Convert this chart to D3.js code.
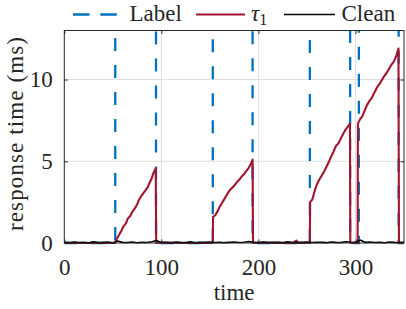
<!DOCTYPE html>
<html>
<head>
<meta charset="utf-8">
<script src="https://cdn.jsdelivr.net/npm/d3@7"></script>
<style>
  html, body { margin: 0; padding: 0; background: #fff; }
  svg text { font-family: "Liberation Serif", "Times New Roman", serif !important; }
</style>
</head>
<body>
<svg width="406" height="309"></svg>
<script>
// chart values
const xTicks = [0, 100, 200, 300]
const yTicks = [0, 5, 10]
const xDomain = [0, 350]
const yDomain = [0, 13]

// Label: step signal, "high" sits far above the visible range
const labelTime = [0, 52.5, 52.5, 94.5, 94.5, 153, 153, 194, 194, 253, 253, 294.5, 294.5, 303.5, 303.5, 344.5, 344.5, 350]
const labelValue = [0, 0, 40, 40, 0, 0, 40, 40, 0, 0, 40, 40, 0, 0, 40, 40, 0, 0]

// tau_1 response time
const tau1Time = [
  0, 52, 54, 56.5, 58.5, 61, 63.5, 65.5, 68, 70, 72.5, 75, 77, 79, 81.5, 84, 86, 88, 90, 92, 94.2, 94.7,
  120, 153, 153.3, 155.5, 158, 160, 162.5, 165, 167.5, 170, 172.5, 175, 177.5, 180, 182.5, 185, 187.5, 190, 192, 194, 194.4,
  236, 239, 241, 253, 253.3, 255.5, 258, 260, 262.5, 265, 267.5, 270, 272.5, 275, 277.5, 280, 282.5, 285, 287.5, 290, 292.5, 294.3, 294.7,
  302.2, 302.5, 304.5, 307, 309.5, 312, 314.5, 317, 319.5, 322, 324.5, 327, 329.5, 332, 334.5, 337, 339.5, 342, 344.3, 344.8, 350
]
const tau1Value = [
  0, 0, 0.25, 0.5, 0.72, 1.02, 1.2, 1.5, 1.65, 1.9, 2.1, 2.35, 2.65, 2.85, 3.05, 3.25, 3.42, 3.7, 3.95, 4.3, 4.56, 0.02,
  0, 0, 1.6, 1.7, 1.95, 2.2, 2.45, 2.7, 2.95, 3.2, 3.35, 3.5, 3.7, 3.85, 4.05, 4.2, 4.4, 4.6, 4.8, 5.1, 0.02,
  0, 0.15, 0, 0, 2.5, 2.65, 3.2, 3.55, 3.85, 4.1, 4.35, 4.65, 4.95, 5.3, 5.6, 5.95, 6.1, 6.4, 6.7, 6.95, 7.15, 7.3, 0.02,
  0, 7.3, 7.55, 7.75, 8.1, 8.45, 8.7, 8.9, 9.2, 9.5, 9.7, 9.95, 10.2, 10.4, 10.65, 10.9, 11.1, 11.45, 11.9, 0.02, 0
]

// Clean: noisy baseline, one sample every 5 time units
const cleanStep = 5
const cleanValue = [
  0.04, 0.02, 0.06, 0.03, 0.05, 0.02, 0.07, 0.03, 0.04, 0.06, 0.02, 0.12, 0.04, 0.03, 0.06, 0.02, 0.05, 0.03, 0.08, 0.15,
  0.03, 0.05, 0.02, 0.06, 0.04, 0.03, 0.07, 0.02, 0.05, 0.04, 0.06, 0.03, 0.05, 0.02, 0.04, 0.06, 0.03, 0.05, 0.09, 0.04,
  0.02, 0.06, 0.03, 0.05, 0.04, 0.02, 0.07, 0.03, 0.05, 0.04, 0.06, 0.03, 0.05, 0.04, 0.02, 0.06, 0.04, 0.03, 0.08, 0.05,
  0.03, 0.18, 0.04, 0.06, 0.03, 0.05, 0.02, 0.06, 0.04, 0.03, 0.05
]

const blue = "#0072bd"
const red = "#a2142f"
const ink = "#262626"

const svg = d3.select("svg")
const margin = { top: 30.5, right: 2, bottom: 66, left: 64.3 }
const width = +svg.attr("width") - margin.left - margin.right
const height = +svg.attr("height") - margin.top - margin.bottom

const x = d3.scaleLinear().domain(xDomain).range([0, width])
const y = d3.scaleLinear().domain(yDomain).range([height, 0])

svg.append("defs").append("clipPath").attr("id", "plotClip")
  .append("rect").attr("x", 0).attr("y", 0).attr("width", width).attr("height", height + 4)

const g = svg.append("g").attr("transform", `translate(${margin.left},${margin.top})`)

// grid
g.append("g").selectAll("line").data(xTicks.filter((d) => d > 0)).join("line")
  .attr("x1", (d) => x(d)).attr("x2", (d) => x(d)).attr("y1", 0).attr("y2", height)
  .attr("stroke", "#dfdfdf").attr("stroke-width", 1)
g.append("g").selectAll("line").data(yTicks.filter((d) => d > 0)).join("line")
  .attr("y1", (d) => y(d)).attr("y2", (d) => y(d)).attr("x1", 0).attr("x2", width)
  .attr("stroke", "#dfdfdf").attr("stroke-width", 1)

// axes with inward ticks on all four sides
const tickLen = 3.5
const styleAxis = (sel) => {
  sel.attr("font-family", null)
  sel.select(".domain").remove()
  sel.selectAll(".tick line").attr("stroke", ink)
  sel.selectAll(".tick text").attr("fill", ink).attr("font-size", 23)
}
g.append("g").attr("transform", `translate(0,${height})`)
  .call(d3.axisBottom(x).tickValues(xTicks).tickSizeInner(-tickLen).tickSizeOuter(0).tickPadding(14))
  .call(styleAxis)
  .selectAll(".tick text").attr("dy", "0.71em").attr("y", 15.5)
g.append("g")
  .call(d3.axisTop(x).tickValues(xTicks).tickSizeInner(-tickLen).tickSizeOuter(0).tickFormat(""))
  .call(styleAxis)
g.append("g")
  .call(d3.axisLeft(y).tickValues(yTicks).tickSizeInner(-tickLen).tickSizeOuter(0).tickPadding(11.5))
  .call(styleAxis)
g.append("g").attr("transform", `translate(${width},0)`)
  .call(d3.axisRight(y).tickValues(yTicks).tickSizeInner(-tickLen).tickSizeOuter(0).tickFormat(""))
  .call(styleAxis)

// data
const lineGen = d3.line().x((d) => x(d[0])).y((d) => y(d[1]))
const labelData = labelTime.map((t, i) => [t, labelValue[i]])
const tau1Data = tau1Time.map((t, i) => [t, tau1Value[i]])
const cleanData = cleanValue.map((v, i) => [i * cleanStep, v])

const plot = g.append("g").attr("clip-path", "url(#plotClip)")
plot.append("path").datum(labelData)
  .attr("fill", "none").attr("stroke", blue).attr("stroke-width", 2.3)
  .attr("stroke-dasharray", "13,14").attr("d", lineGen)
plot.append("path").datum(tau1Data)
  .attr("fill", "none").attr("stroke", red).attr("stroke-width", 2.1)
  .attr("stroke-linejoin", "round").attr("d", lineGen)
plot.append("path").datum(cleanData)
  .attr("fill", "none").attr("stroke", "#000").attr("stroke-width", 1.6)
  .attr("d", lineGen)

// box
g.append("rect").attr("x", 0).attr("y", 0).attr("width", width).attr("height", height)
  .attr("fill", "none").attr("stroke", ink).attr("stroke-width", 1)

// axis titles
svg.append("text").attr("x", margin.left + width / 2).attr("y", 300)
  .attr("text-anchor", "middle").attr("font-size", 23).attr("fill", ink).text("time")
svg.append("text").attr("transform", "translate(23,134) rotate(-90)")
  .attr("text-anchor", "middle").attr("font-size", 23).attr("fill", ink)
  .attr("textLength", 194).attr("lengthAdjust", "spacing")
  .text("response time (ms)")

// legend
const legend = svg.append("g")
const legendY = 14.5
const legendBase = 20.5
legend.append("line").attr("x1", 73).attr("x2", 117).attr("y1", legendY).attr("y2", legendY)
  .attr("stroke", blue).attr("stroke-width", 2.3).attr("stroke-dasharray", "16.5,10.8")
legend.append("text").attr("x", 129.5).attr("y", legendBase).attr("font-size", 23).attr("fill", ink).text("Label")
legend.append("line").attr("x1", 196).attr("x2", 245).attr("y1", legendY).attr("y2", legendY)
  .attr("stroke", red).attr("stroke-width", 2.1)
const tau = legend.append("text").attr("x", 251).attr("y", legendBase).attr("font-size", 23).attr("fill", ink)
tau.append("tspan").attr("font-style", "italic").text("τ")
tau.append("tspan").attr("font-size", 16).attr("dy", 4).text("1")
legend.append("line").attr("x1", 284).attr("x2", 335).attr("y1", legendY).attr("y2", legendY)
  .attr("stroke", "#000").attr("stroke-width", 1.6)
legend.append("text").attr("x", 341.5).attr("y", legendBase).attr("font-size", 23).attr("fill", ink).text("Clean")
</script>
</body>
</html>
